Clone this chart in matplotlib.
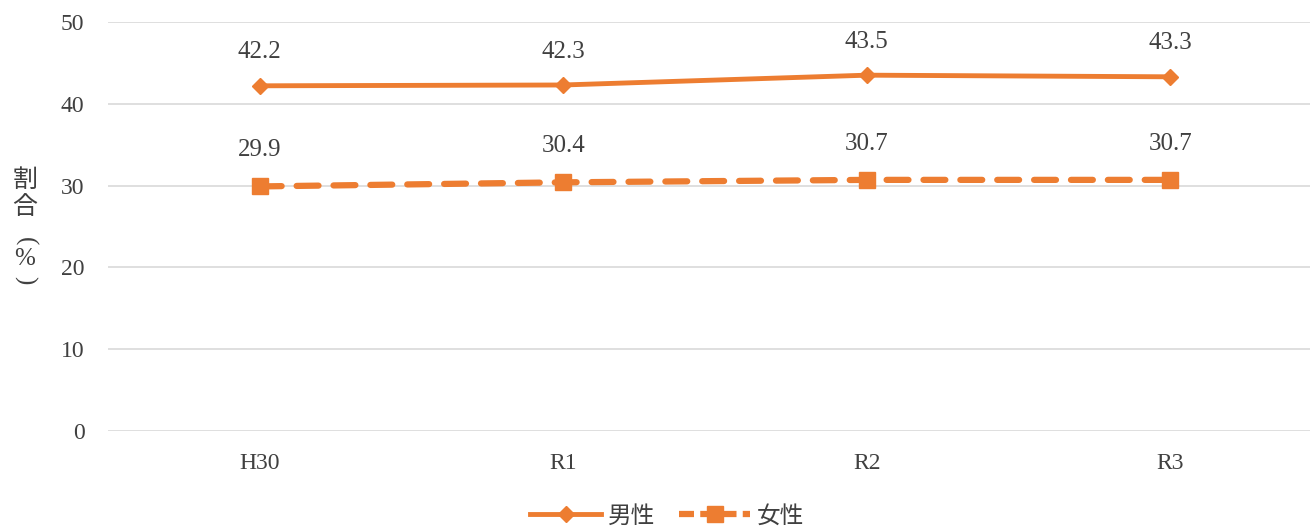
import matplotlib
matplotlib.use("Agg")
import matplotlib.pyplot as plt
from matplotlib.lines import Line2D

categories = ["H30", "R1", "R2", "R3"]
male = [42.2, 42.3, 43.5, 43.3]
female = [29.9, 30.4, 30.7, 30.7]
yticks = [0, 10, 20, 30, 40, 50]

ORANGE = "#ED7D31"
TEXT = "#404040"
SERIF = ["Liberation Serif", "DejaVu Serif"]
CJK = ["Noto Sans CJK JP", "DejaVu Sans"]

W, H = 1311, 528
fig = plt.figure(figsize=(W / 100, H / 100), dpi=100)
ax = fig.add_axes([108 / W, 1 - 431 / H, (1310 - 108) / W, (431 - 22) / H])

x = list(range(len(categories)))
ax.plot(x, male, color=ORANGE, lw=3.5, marker="D", ms=8, solid_capstyle="round")
ax.plot(x, female, color=ORANGE, lw=4.5, ls=(0, (3.5, 2.4)), marker="s", ms=11,
        dash_capstyle="round")

for xi, v in zip(x, male):
    ax.annotate(f"{v:.1f}", (xi, v), xytext=(0, 24), textcoords="offset points",
                ha="center", va="center", fontsize=18, color=TEXT, family=SERIF)
for xi, v in zip(x, female):
    ax.annotate(f"{v:.1f}", (xi, v), xytext=(0, 26), textcoords="offset points",
                ha="center", va="center", fontsize=18, color=TEXT, family=SERIF)

ax.set_ylim(0, 50)
ax.set_yticks(yticks)
ax.set_xlim(-0.5, 3.46)
ax.set_xticks(x)
ax.set_xticklabels(categories)
ax.grid(axis="y", color="#D9D9D9", lw=1.2)
ax.set_axisbelow(True)
for s in ax.spines.values():
    s.set_visible(False)
ax.tick_params(length=0, labelsize=17, labelcolor=TEXT)
ax.tick_params(axis="y", pad=17)
ax.tick_params(axis="x", pad=16)
for lbl in ax.get_xticklabels() + ax.get_yticklabels():
    lbl.set_family(SERIF)

# vertical y-axis label
for ch, yp, rot, fam in [("割", 180, 0, CJK), ("合", 207, 0, CJK),
                         ("(", 241, -90, SERIF), ("%", 259, 0, SERIF),
                         (")", 280, -90, SERIF)]:
    fig.text(25 / W, 1 - yp / H, ch, ha="center", va="center", fontsize=18,
             color=TEXT, family=fam, rotation=rot)

handles = [
    Line2D([], [], color=ORANGE, lw=3.5, marker="D", ms=8),
    Line2D([], [], color=ORANGE, lw=4.5, ls=(0, (2.4, 1.0)), marker="s", ms=11),
]
leg = fig.legend(handles, ["男性", "女性"], loc="center", bbox_to_anchor=(0.509, 1 - 516 / H),
                 ncol=2, frameon=False, prop={"family": CJK, "size": 17},
                 handlelength=3.0, columnspacing=1.0, handletextpad=0.3)
for t in leg.get_texts():
    t.set_color(TEXT)

fig.savefig("out.png", dpi=100)
